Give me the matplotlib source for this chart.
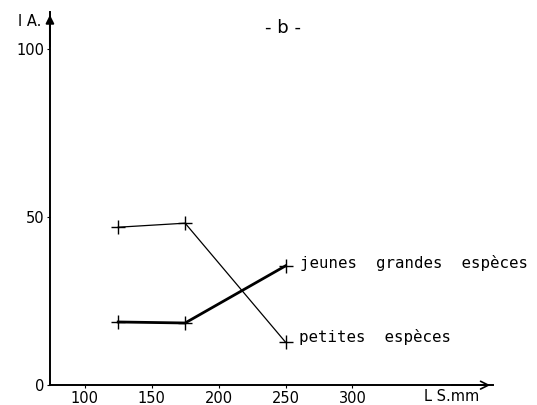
import matplotlib
matplotlib.use("Agg")
import matplotlib.pyplot as plt

# longueur standard (mm)
ls_mm = [125, 175, 250]
# indice d'abondance
petites = [47, 48.2, 12.8]
jeunes_grandes = [18.8, 18.5, 35.5]

xticks = [100, 150, 200, 250, 300]
yticks = [0, 50, 100]

fig = plt.figure(figsize=(5.37, 4.05), dpi=100)
ax = fig.add_axes([0.093, 0.049, 0.825, 0.921])

ax.plot(ls_mm, petites, color="black", lw=0.9, marker="+", ms=10, mew=1.0)
ax.plot(ls_mm, jeunes_grandes, color="black", lw=2.0, marker="+", ms=10, mew=1.0)

ax.text(ls_mm[2] + 11, jeunes_grandes[2] + 1.0, "jeunes  grandes  espèces",
        family="DejaVu Sans Mono", fontsize=11.3, va="center", ha="left")
ax.text(ls_mm[2] + 10, petites[2] + 1.5, "petites  espèces",
        family="DejaVu Sans Mono", fontsize=11.3, va="center", ha="left")

ax.set_xlim(74, 405)
ax.set_ylim(0, 111)
ax.set_xticks(xticks)
ax.set_yticks(yticks)
ax.tick_params(direction="out", length=2, width=0.8, labelsize=10.5, pad=2)

for s in ["top", "right"]:
    ax.spines[s].set_visible(False)
ax.spines["left"].set_linewidth(1.4)
ax.spines["bottom"].set_linewidth(1.4)

# fleches des axes
ax.annotate("", xy=(0, 1.0), xytext=(0, 0.9), xycoords="axes fraction",
            arrowprops=dict(arrowstyle="-|>", color="black", lw=1.4, mutation_scale=12))
ax.annotate("", xy=(1.0, 0), xytext=(0.9, 0), xycoords="axes fraction",
            arrowprops=dict(arrowstyle="->", color="black", lw=1.2, mutation_scale=14))

fig.text(0.527, 0.93, "- b -", fontsize=13, ha="center", va="center")
fig.text(0.034, 0.946, "I A.", fontsize=10.5, ha="left", va="center")
fig.text(0.79, 0.02, "L S.mm", fontsize=10.5, ha="left", va="center")

fig.savefig("out.png", dpi=100)
